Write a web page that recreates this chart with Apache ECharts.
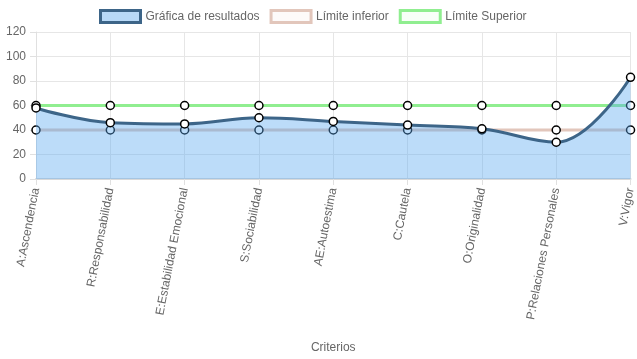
<!DOCTYPE html>
<html>
<head>
<meta charset="utf-8">
<script src="https://cdn.jsdelivr.net/npm/echarts@6/dist/echarts.min.js"></script>
<style>html,body{margin:0;padding:0;background:#fff;}#c{width:637px;height:359px;}</style>
</head>
<body>
<div id="c"></div>
<script>
var categories = ['A:Ascendencia','R:Responsabilidad','E:Estabilidad Emocional','S:Sociabilidad','AE:Autoestima','C:Cautela','O:Originalidad','P:Relaciones Personales','V:Vigor'];
var resultados = [58, 46, 45, 50, 47, 44, 41, 30, 83];
var limiteInferior = [40, 40, 40, 40, 40, 40, 40, 40, 40];
var limiteSuperior = [60, 60, 60, 60, 60, 60, 60, 60, 60];
var yTicks = {min: 0, max: 120, interval: 20};
var seriesNames = ['Gráfica de resultados', 'Límite inferior', 'Límite Superior'];

var FONT = '"Liberation Sans", Arial, sans-serif';
var chart = echarts.init(document.getElementById('c'), null, {renderer: 'canvas'});
var sym = {symbol: 'circle', symbolSize: 8, itemStyle: {color: '#fff', borderColor: '#000', borderWidth: 1.5}};
chart.setOption({
  animation: false,
  legend: {
    top: 4, left: 94, itemWidth: 40, itemHeight: 12, itemGap: 10,
    textStyle: {fontFamily: FONT, fontSize: 12, color: '#666'},
    data: [
      {name: seriesNames[0], icon: 'rect', itemStyle: {color: '#b8d9f7', borderColor: '#3d6588', borderWidth: 3}},
      {name: seriesNames[1], icon: 'rect', itemStyle: {color: '#fdfaf9', borderColor: '#e2c6bb', borderWidth: 3}},
      {name: seriesNames[2], icon: 'rect', itemStyle: {color: '#f8fff8', borderColor: '#90ee90', borderWidth: 3}}
    ]
  },
  grid: {left: 36, right: 4, top: 32, bottom: 180, containLabel: false},
  xAxis: {
    type: 'category', data: categories, boundaryGap: false,
    name: 'Criterios', nameLocation: 'middle', nameGap: 163,
    nameTextStyle: {fontFamily: FONT, fontSize: 12, color: '#666'},
    axisLine: {show: true, lineStyle: {color: '#d9d9d9', width: 2}},
    axisTick: {show: true, length: 6, lineStyle: {color: '#e0e0e0'}},
    axisLabel: {rotate: 79, margin: 9, fontFamily: FONT, fontSize: 12, color: '#666', interval: 0},
    splitLine: {show: true, lineStyle: {color: '#e6e6e6', width: 1}}
  },
  yAxis: {
    type: 'value', min: yTicks.min, max: yTicks.max, interval: yTicks.interval,
    axisLine: {show: true, lineStyle: {color: '#e0e0e0'}},
    axisTick: {show: true, length: 6, lineStyle: {color: '#e0e0e0'}},
    axisLabel: {margin: 10, fontFamily: FONT, fontSize: 12, color: '#666'},
    splitLine: {show: true, lineStyle: {color: '#e6e6e6', width: 1}}
  },
  series: [
    Object.assign({name: seriesNames[2], type: 'line', data: limiteSuperior, smooth: 0.4, z: 2,
      lineStyle: {color: '#90ee90', width: 3}}, sym),
    Object.assign({name: seriesNames[1], type: 'line', data: limiteInferior, smooth: 0.4, z: 2,
      lineStyle: {color: '#e2c6bb', width: 3}}, sym),
    Object.assign({name: seriesNames[0], type: 'line', data: resultados, smooth: 0.4, z: 3,
      lineStyle: {color: '#3d6588', width: 3},
      areaStyle: {color: 'rgba(88,168,240,0.4)', opacity: 1, origin: 'start'}}, sym)
  ]
});
</script>
</body>
</html>
